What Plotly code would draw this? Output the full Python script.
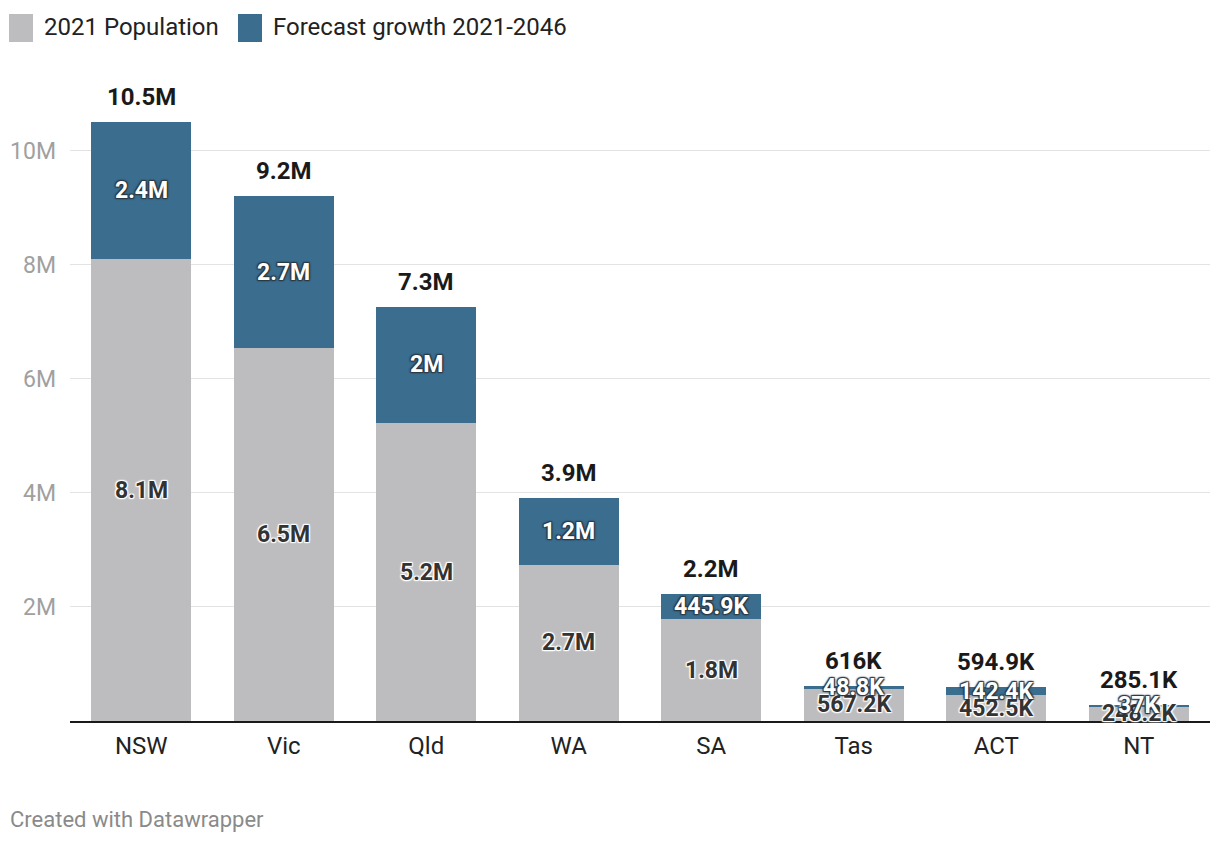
import plotly.graph_objects as go

states = ["NSW", "Vic", "Qld", "WA", "SA", "Tas", "ACT", "NT"]
pop_2021 = [8.09e6, 6.53e6, 5.22e6, 2.74e6, 1.78e6, 567.2e3, 452.5e3, 248.16e3]
growth = [2.41e6, 2.67e6, 2.04e6, 1.16e6, 445.9e3, 48.8e3, 142.4e3, 36.96e3]
ytick_vals = [2e6, 4e6, 6e6, 8e6, 10e6]
ytick_text = ["2M", "4M", "6M", "8M", "10M"]

GRAY = "#bdbdbf"
BLUE = "#3b6d8f"
FONT = "Roboto"

DARK_HALO = ("1px 1px 1px #2a3a45, -1px -1px 1px #2a3a45, 1px -1px 1px #2a3a45, "
             "-1px 1px 1px #2a3a45, 0 0 3px #2a3a45")
WHITE_HALO = ("1px 1px 1px #fff, -1px -1px 1px #fff, 1px -1px 1px #fff, "
              "-1px 1px 1px #fff, 0 0 3px #fff")


def fmt(v):
    if v >= 1e6:
        s = f"{v/1e6:.1f}"
        suf = "M"
    else:
        s = f"{v/1e3:.1f}"
        suf = "K"
    if s.endswith(".0"):
        s = s[:-2]
    return s + suf


fig = go.Figure()
fig.add_trace(go.Bar(x=states, y=pop_2021, marker=dict(color=GRAY, line=dict(width=0)),
                     name="2021 Population", hoverinfo="skip"))
fig.add_trace(go.Bar(x=states, y=growth, marker=dict(color=BLUE, line=dict(width=0)),
                     name="Forecast growth 2021-2046", hoverinfo="skip"))

ann = []
for s, p, g in zip(states, pop_2021, growth):
    ann.append(dict(x=s, y=p / 2, text=fmt(p), showarrow=False, xref="x", yref="y",
                    font=dict(family=FONT, size=23, color="#333333", weight="bold",
                              shadow=WHITE_HALO)))
    ann.append(dict(x=s, y=p + g / 2, text=fmt(g), showarrow=False, xref="x", yref="y",
                    font=dict(family=FONT, size=23, color="#ffffff", weight="bold",
                              shadow=DARK_HALO)))
    ann.append(dict(x=s, y=p + g, text=fmt(p + g), showarrow=False, xref="x", yref="y",
                    yanchor="bottom", yshift=9,
                    font=dict(family=FONT, size=24, color="#1a1a1a", weight="bold")))

# plot area in page pixels: x 70..1210, y 82..721 (page body has an 8px margin)
def px_x(x):
    return (x - 70) / 1140.0


def px_y(y):
    return (721 - y) / 639.0


shapes = [
    dict(type="rect", xref="paper", yref="paper", x0=px_x(9), x1=px_x(33), y0=px_y(42), y1=px_y(14),
         fillcolor=GRAY, line=dict(width=0)),
    dict(type="rect", xref="paper", yref="paper", x0=px_x(238), x1=px_x(262), y0=px_y(42), y1=px_y(14),
         fillcolor=BLUE, line=dict(width=0)),
]
ann.append(dict(x=px_x(42), y=px_y(27), xref="paper", yref="paper", text="2021 Population",
                showarrow=False, xanchor="left", yanchor="middle",
                font=dict(family=FONT, size=24, color="#222222")))
ann.append(dict(x=px_x(271), y=px_y(27), xref="paper", yref="paper", text="Forecast growth 2021-2046",
                showarrow=False, xanchor="left", yanchor="middle",
                font=dict(family=FONT, size=24, color="#222222")))
ann.append(dict(x=px_x(8), y=px_y(819), xref="paper", yref="paper", text="Created with Datawrapper",
                showarrow=False, xanchor="left", yanchor="middle",
                font=dict(family=FONT, size=22, color="#8a8a8a")))

fig.update_layout(
    barmode="stack",
    bargap=0.3,
    width=1212, height=836,
    margin=dict(l=62, r=10, t=74, b=123, pad=0, autoexpand=False),
    plot_bgcolor="white", paper_bgcolor="white",
    showlegend=False,
    font=dict(family=FONT, size=22, color="#333333"),
    annotations=ann,
    shapes=shapes,
    xaxis=dict(showgrid=False, showline=True, linecolor="#1a1a1a", linewidth=2,
               ticks="", tickfont=dict(family=FONT, size=24, color="#222222"),
               ticklabelstandoff=2, automargin=False, fixedrange=True),
    yaxis=dict(range=[0, 11.2e6], tickvals=ytick_vals, ticktext=ytick_text,
               showgrid=True, gridcolor="#e3e3e3", gridwidth=1, zeroline=False,
               ticks="", tickfont=dict(family=FONT, size=23, color="#a0a0a0"),
               ticklabelstandoff=13, automargin=False, fixedrange=True),
)

fig.write_html("out.html")
